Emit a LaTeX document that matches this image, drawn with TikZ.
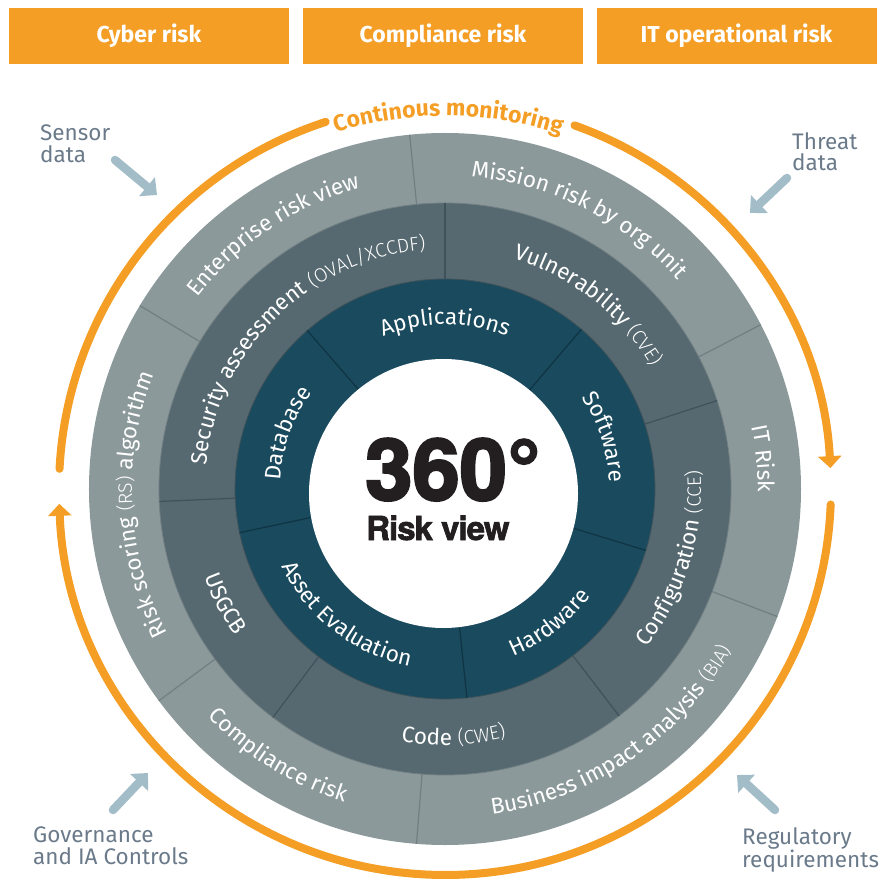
\documentclass[tikz,border=0pt]{standalone}
\usepackage{fontspec}
\setmainfont{Fira Sans}
\newfontfamily\lightfont{Fira Sans Light}
\newfontfamily\bigfont{TeX Gyre Heros}[BoldFeatures={FakeBold=3}]
\newfontfamily\tightfont{TeX Gyre Heros}[LetterSpace=-3,BoldFeatures={FakeBold=2}]
\usetikzlibrary{arrows.meta,decorations.text}

\definecolor{riskorange}{RGB}{244,158,38}
\definecolor{outerring}{RGB}{140,153,155}
\definecolor{midring}{RGB}{86,105,112}
\definecolor{innerring}{RGB}{26,74,94}
\definecolor{outerline}{RGB}{114,127,130}
\definecolor{midline}{RGB}{64,82,89}
\definecolor{innerline}{RGB}{15,52,68}
\definecolor{sidetext}{RGB}{106,122,138}
\definecolor{sidearrow}{RGB}{163,189,200}
\definecolor{bigtext}{RGB}{35,31,32}

\newcommand\ringfont{\fontsize{22.5}{26}\selectfont}
\newcommand\parenfont{\lightfont\fontsize{19.5}{23}\selectfont}

\tikzset{
  riskbox/.style={fill=riskorange, minimum width=280pt, minimum height=56pt, inner sep=0pt,
    text=white, font=\bfseries\fontsize{23}{27}\selectfont},
  sidelabel/.style={align=left, anchor=north west, inner sep=0pt, text=sidetext,
    font=\fontsize{22.5}{21.5}\selectfont},
  feed/.style={draw=sidearrow, line width=8.5pt, line cap=round, -{Triangle[width=24pt,length=13pt]}},
  monitor/.style={draw=riskorange, line width=8pt, line cap=round},
  ringtext/.style={decorate, decoration={text along path, text align=center, text color=white, text={#1}}},
}

\begin{document}
\begin{tikzpicture}[x=1pt,y=1pt]
\useasboundingbox (-445,-389) rectangle (437,489);

%% risk headers
\node[riskbox] (cyber) at (-296,453) {Cyber risk};
\node[riskbox] (compliance) at (-2,453) {Compliance risk};
\node[riskbox] (itops) at (291.5,453) {IT operational risk};

%% rings
\fill[outerring] (0,0) circle (356pt);
\fill[midring] (0,0) circle (286pt);
\fill[innerring] (0,0) circle (210pt);
\draw[outerline, line width=0.8pt] (0,0) circle (286pt);
\draw[midline, line width=0.8pt] (0,0) circle (210pt);

%% ring dividers
\foreach \a in {95.7,27.5,-21,265.4,216.5,149}
  \draw[outerline, line width=1.2pt] (\a:286pt) -- (\a:356pt);
\foreach \a in {90,18,-52.5,233,182.5}
  \draw[midline, line width=1.2pt] (\a:210pt) -- (\a:286pt);
\foreach \a in {131,49.5,-17,-84,192}
  \draw[innerline, line width=1.2pt] (\a:120pt) -- (\a:210pt);

%% centre
\fill[white] (-1.5,-4.5) circle (134.5pt);
\node[anchor=base west, inner sep=0pt, text=bigtext, font=\bigfont\bfseries\fontsize{85}{85}\selectfont]
  (degrees) at (-80,-11) {360°};
\node[anchor=base west, inner sep=0pt, text=bigtext, font=\tightfont\bfseries\fontsize{33}{33}\selectfont]
  (riskview) at (-79,-51) {Risk view};

%% outer ring labels
\path[ringtext={|\ringfont|Enterprise risk view}] (199:313pt) arc[start angle=199, end angle=49, radius=313pt];
\path[ringtext={|\ringfont|Mission risk by org unit}] (138.5:313pt) arc[start angle=138.5, end angle=-11.5, radius=313pt];
\path[ringtext={|\ringfont|IT Risk}] (80.5:313pt) arc[start angle=80.5, end angle=-69.5, radius=313pt];
\path[ringtext={|\ringfont|Business impact analysis |\parenfont|(BIA)}] (-130.5:329pt) arc[start angle=-130.5, end angle=19.5, radius=329pt];
\path[ringtext={|\ringfont|Compliance risk}] (163:329pt) arc[start angle=163, end angle=313, radius=329pt];
\path[ringtext={|\ringfont|Risk scoring |\parenfont|(RS) |\ringfont|algorithm}] (258:313pt) arc[start angle=258, end angle=108, radius=313pt];

%% middle ring labels
\path[ringtext={|\ringfont|Security assessment |\parenfont|(OVAL/XCCDF)}] (209.5:240pt) arc[start angle=209.5, end angle=59.5, radius=240pt];
\path[ringtext={|\ringfont|Vulnerability |\parenfont|(CVE)}] (127:240pt) arc[start angle=127, end angle=-23, radius=240pt];
\path[ringtext={|\ringfont|Configuration |\parenfont|(CCE)}] (-92:256pt) arc[start angle=-92, end angle=58, radius=256pt];
\path[ringtext={|\ringfont|Code |\parenfont|(CWE)}] (-163:256pt) arc[start angle=-163, end angle=-13, radius=256pt];
\path[ringtext={|\ringfont|USGCB}] (132.5:256pt) arc[start angle=132.5, end angle=282.5, radius=256pt];

%% inner ring labels
\path[ringtext={|\ringfont|Applications}] (165:164.5pt) arc[start angle=165, end angle=15, radius=164.5pt];
\path[ringtext={|\ringfont|Software}] (93:164.5pt) arc[start angle=93, end angle=-57, radius=164.5pt];
\path[ringtext={|\ringfont|Hardware}] (-127:180.5pt) arc[start angle=-127, end angle=23, radius=180.5pt];
\path[ringtext={|\ringfont|Asset Evaluation}] (157:180.5pt) arc[start angle=157, end angle=307, radius=180.5pt];
\path[ringtext={|\ringfont|Database}] (235.5:164.5pt) arc[start angle=235.5, end angle=85.5, radius=164.5pt];

%% continuous monitoring loop
\draw[monitor, -{Triangle[width=23pt,length=12pt]}] (70.4:386pt) arc[start angle=70.4, end angle=3.1, radius=386pt];
\draw[monitor, -{Triangle[width=23pt,length=12pt]}] (-2.3:386pt) arc[start angle=-2.3, end angle=-177.8, radius=386pt];
\draw[monitor] (177:386pt) arc[start angle=177, end angle=108, radius=386pt];
\path[decorate, decoration={text along path, text align=center, text color=riskorange,
  text={|\bfseries\fontsize{23}{27}\selectfont|Continous monitoring}}]
  (159.5:373pt) arc[start angle=159.5, end angle=19.5, radius=373pt];

%% data feeds
\node[sidelabel] (sensor) at (-405,364) {Sensor\\data};
\node[sidelabel] (threat) at (347,357) {Threat\\data};
\node[sidelabel] (governance) at (-412,-338) {Governance\\and IA Controls};
\node[sidelabel] (regulatory) at (297,-338) {Regulatory\\requirements};

\coordinate (sensor-from) at (-330,329);
\coordinate (sensor-to) at (-288,294);
\coordinate (threat-from) at (342,311);
\coordinate (threat-to) at (305,276);
\coordinate (governance-from) at (-332,-321);
\coordinate (governance-to) at (-297,-284);
\coordinate (regulatory-from) at (330,-321);
\coordinate (regulatory-to) at (292,-286);
\draw[feed] (sensor-from) -- (sensor-to);
\draw[feed] (threat-from) -- (threat-to);
\draw[feed] (governance-from) -- (governance-to);
\draw[feed] (regulatory-from) -- (regulatory-to);
\end{tikzpicture}
\end{document}
